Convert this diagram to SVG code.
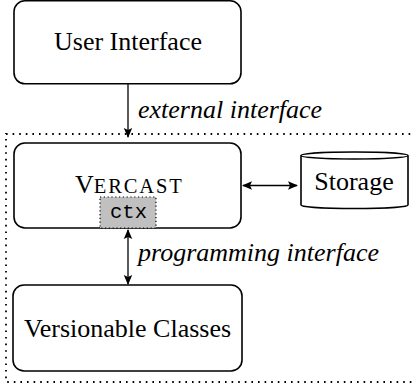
<svg xmlns="http://www.w3.org/2000/svg" width="415" height="387" viewBox="0 0 415 387">
  <style>
    .box { fill: #ffffff; stroke: #000000; stroke-width: 1.6; }
    .lbl { font-family: 'Liberation Serif', 'DejaVu Serif', serif; font-size: 26px; fill: #000000; }
    .it { font-style: italic; }
    .mono { font-family: 'Liberation Mono', 'DejaVu Sans Mono', monospace; font-size: 20.5px; fill: #000000; }
    .wire { stroke: #000000; stroke-width: 1.3; fill: none; }
    .dots { fill: none; stroke: #000000; stroke-width: 1.8; stroke-dasharray: 1.6 5; }
  </style>
  <defs>
    <marker id="tip" viewBox="0 0 10 10" refX="9" refY="5" markerWidth="10" markerHeight="10" markerUnits="userSpaceOnUse" orient="auto-start-reverse">
      <path d="M0,0.8 L10,5 L0,9.2 L2,5 Z" fill="#000000"/>
    </marker>
  </defs>

  <!-- dotted boundary around the library part -->
  <rect class="dots" x="6" y="134" width="412" height="248"/>

  <g id="user-interface">
    <rect class="box" x="14" y="0.8" width="227" height="83" rx="11"/>
    <text class="lbl" x="128" y="50" text-anchor="middle">User Interface</text>
  </g>

  <g id="vercast">
    <rect class="box" x="14" y="143" width="227" height="85" rx="11"/>
    <text class="lbl" x="75" y="193">V<tspan font-size="20.5" textLength="88" lengthAdjust="spacing">ERCAST</tspan></text>
    <g id="ctx">
      <rect x="100" y="197" width="56" height="31" fill="#c0c0c0" stroke="#000000" stroke-width="1.2" stroke-dasharray="1.2 2.6"/>
      <text class="mono" x="128.5" y="217.5" text-anchor="middle">ctx</text>
    </g>
  </g>

  <g id="storage">
    <path class="box" d="M301,155.5 A53.5,3.5 0 0 1 408,155.5 L408,205 A53.5,3.5 0 0 1 301,205 Z"/>
    <path class="wire" stroke-width="1.6" d="M301,155.5 A53.5,3.5 0 0 0 408,155.5"/>
    <text class="lbl" x="354" y="190" text-anchor="middle">Storage</text>
  </g>

  <g id="versionable-classes">
    <rect class="box" x="13" y="285" width="229" height="86" rx="11"/>
    <text class="lbl" x="127.5" y="336.5" text-anchor="middle">Versionable Classes</text>
  </g>

  <g id="connectors">
    <line class="wire" x1="128" y1="84" x2="128" y2="137" marker-end="url(#tip)"/>
    <text class="lbl it" x="138" y="118">external interface</text>
    <line class="wire" x1="243" y1="185.5" x2="297" y2="185.5" marker-start="url(#tip)" marker-end="url(#tip)"/>
    <line class="wire" x1="128" y1="230" x2="128" y2="284" marker-start="url(#tip)" marker-end="url(#tip)"/>
    <text class="lbl it" x="138" y="261">programming interface</text>
  </g>
</svg>
